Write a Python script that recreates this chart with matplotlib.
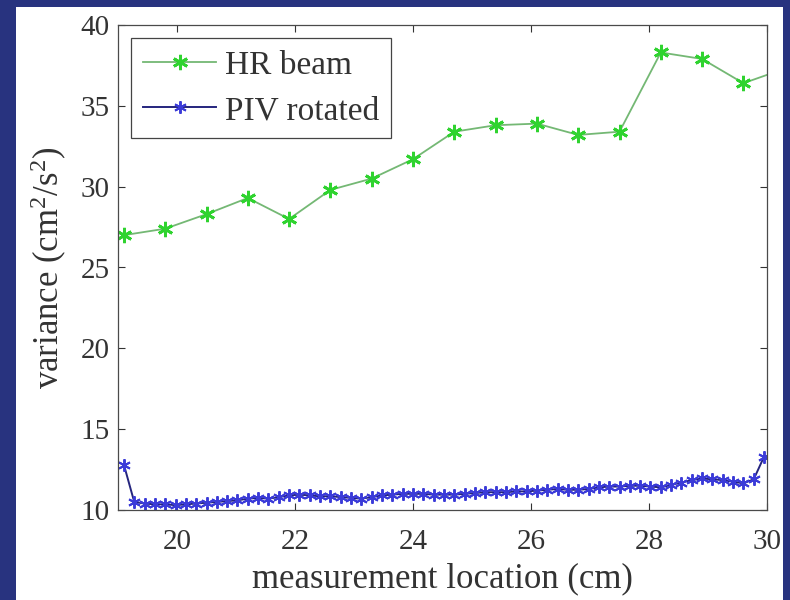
import matplotlib
matplotlib.use("Agg")
import matplotlib.pyplot as plt
from matplotlib.patches import Rectangle

# HR beam profile (cm, cm^2/s^2)
hr_x = [19.1, 19.8, 20.5, 21.2, 21.9, 22.6, 23.3, 24.0, 24.7, 25.4,
        26.1, 26.8, 27.5, 28.2, 28.9, 29.6, 30.3]
hr_var = [27.0, 27.4, 28.3, 29.3, 28.0, 29.8, 30.5, 31.7, 33.4, 33.8,
          33.9, 33.2, 33.4, 38.3, 37.9, 36.4, 37.3]

# PIV rotated profile
piv_x = [19.1, 19.275, 19.45, 19.625, 19.8, 19.975, 20.15, 20.325, 20.5, 20.675,
         20.85, 21.025, 21.2, 21.375, 21.55, 21.725, 21.9, 22.075, 22.25, 22.425,
         22.6, 22.775, 22.95, 23.125, 23.3, 23.475, 23.65, 23.825, 24.0, 24.175,
         24.35, 24.525, 24.7, 24.875, 25.05, 25.225, 25.4, 25.575, 25.75, 25.925,
         26.1, 26.275, 26.45, 26.625, 26.8, 26.975, 27.15, 27.325, 27.5, 27.675,
         27.85, 28.025, 28.2, 28.375, 28.55, 28.725, 28.9, 29.075, 29.25, 29.425,
         29.6, 29.775, 29.95]
piv_var = [12.8, 10.5, 10.4, 10.35, 10.35, 10.3, 10.35, 10.4, 10.45, 10.5,
           10.55, 10.6, 10.7, 10.75, 10.7, 10.8, 10.9, 10.95, 10.9, 10.85,
           10.85, 10.8, 10.75, 10.7, 10.8, 10.9, 10.95, 11.0, 11.0, 11.0,
           10.95, 10.95, 10.95, 11.0, 11.05, 11.1, 11.1, 11.1, 11.15, 11.15,
           11.2, 11.25, 11.3, 11.25, 11.25, 11.3, 11.4, 11.45, 11.45, 11.5,
           11.5, 11.45, 11.4, 11.55, 11.7, 11.85, 11.95, 11.9, 11.85, 11.75,
           11.65, 11.9, 13.3]

x_ticks = [20, 22, 24, 26, 28, 30]
y_ticks = [10, 15, 20, 25, 30, 35, 40]

plt.rcParams["font.family"] = ["Liberation Serif", "DejaVu Serif"]
plt.rcParams["mathtext.fontset"] = "custom"
plt.rcParams["mathtext.rm"] = "Liberation Serif"
plt.rcParams["mathtext.it"] = "Liberation Serif:italic"

fig = plt.figure(figsize=(7.9, 6), dpi=100, facecolor="#28337f")
# white slide panel behind the plot
fig.patches.append(Rectangle((16 / 790, 0), (783 - 16) / 790, 593 / 600,
                             transform=fig.transFigure, facecolor="white",
                             edgecolor="none", zorder=-10))

ax = fig.add_axes([118 / 790, 90 / 600, (767 - 118) / 790, (510 - 25) / 600])
ax.set_facecolor("white")

asterisk = (6, 2, 0)
ax.plot(hr_x, hr_var, color="#74b874", lw=1.3, marker=asterisk, ms=11, mew=2.0,
        mec="#2fd32f", mfc="#2fd32f", label="HR beam")
ax.plot(piv_x, piv_var, color="#25257e", lw=1.4, marker=asterisk, ms=9, mew=1.4,
        mec="#3b3bd8", mfc="#3b3bd8", label="PIV rotated")

ax.set_xlim(19, 30)
ax.set_ylim(10, 40)
ax.set_xticks(x_ticks)
ax.set_yticks(y_ticks)
ax.tick_params(direction="in", top=True, right=True, length=5, width=0.8,
               labelsize=21, colors="#333333", pad=6)
ax.tick_params(axis="x", pad=14)
for s in ax.spines.values():
    s.set_color("#4a4a4a")
    s.set_linewidth(0.9)

ax.set_xlabel("measurement location (cm)", fontsize=25, color="#333333", labelpad=5)
ax.set_ylabel("variance (cm$^2$/s$^2$)", fontsize=25, color="#333333", labelpad=8)

leg = ax.legend(loc="upper left", fontsize=24, frameon=True, fancybox=False,
                framealpha=1, edgecolor="#444444", handlelength=2.2,
                handletextpad=0.25, borderaxespad=0.4, labelspacing=0.45,
                borderpad=0.35)
leg.get_frame().set_linewidth(0.9)
for t in leg.get_texts():
    t.set_color("#333333")

fig.savefig("out.png", dpi=100, facecolor=fig.get_facecolor())
